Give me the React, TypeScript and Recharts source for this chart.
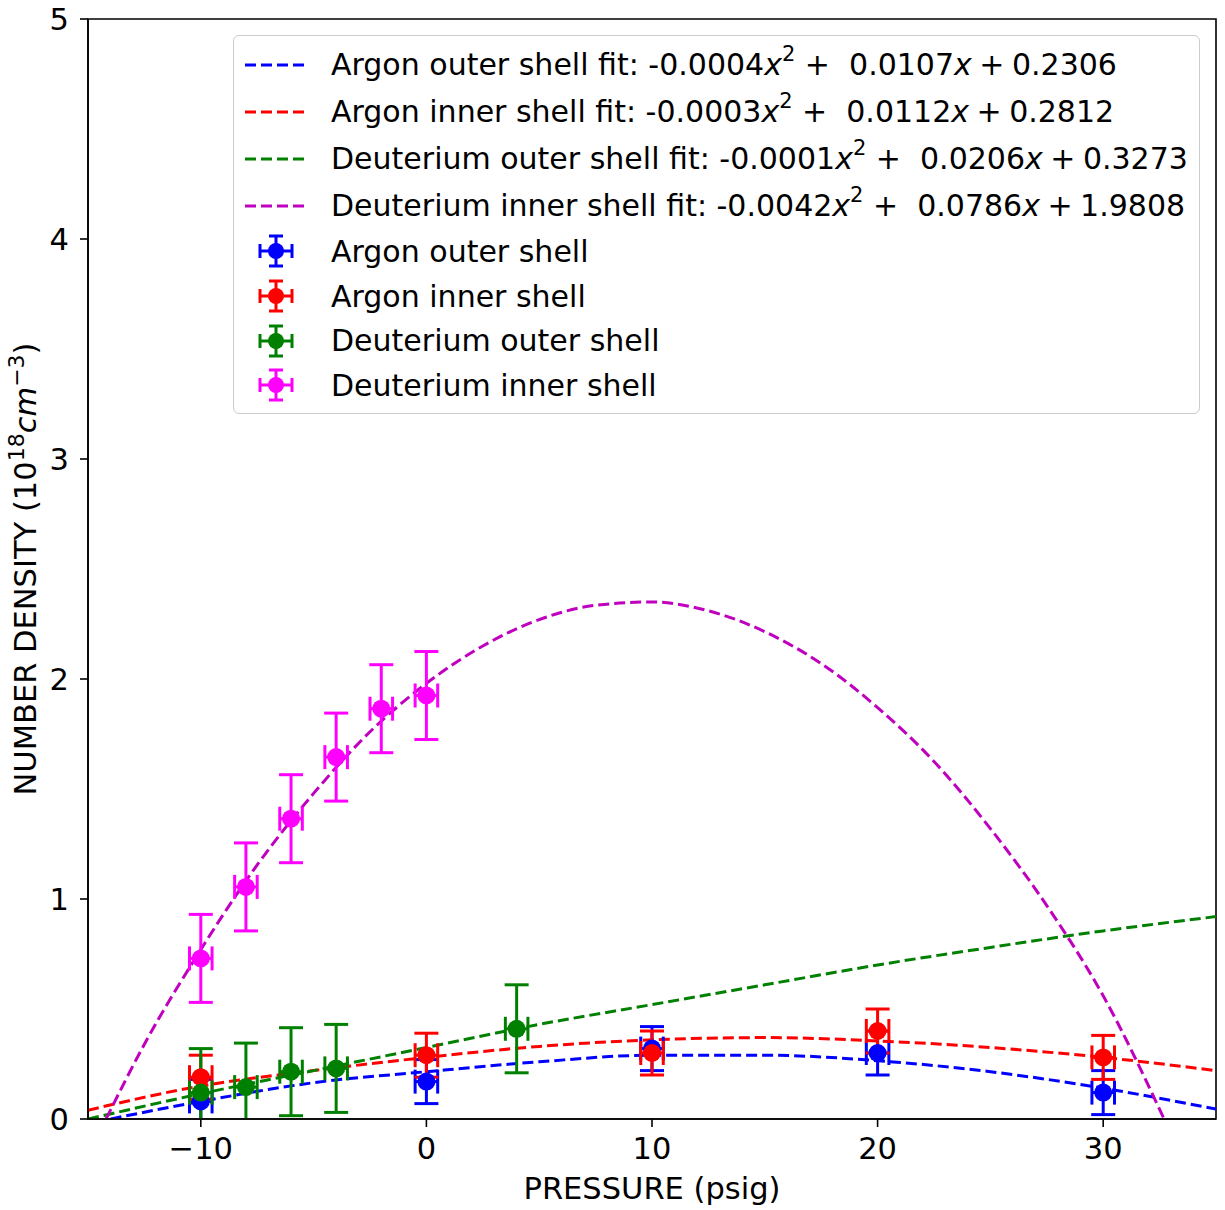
import React from 'react';
import { ComposedChart, Line, Scatter, XAxis, YAxis, ErrorBar, ReferenceArea } from 'recharts';

const FONT = '"DejaVu Sans", "Liberation Sans", sans-serif';
const FS = 30.5;
const LEGEND_FS = 30;

// measured points (pressure in psig, density in 1e18 cm^-3)
const argonOuterX = [-10, 0, 10, 20, 30];
const argonOuterY = [0.08, 0.17, 0.32, 0.3, 0.12];
const argonOuterErr = [0.1, 0.1, 0.1, 0.1, 0.1];

const argonInnerX = [-10, 0, 10, 20, 30];
const argonInnerY = [0.19, 0.29, 0.3, 0.4, 0.28];
const argonInnerErr = [0.1, 0.1, 0.1, 0.1, 0.1];

const deutOuterX = [-10, -8, -6, -4, 4];
const deutOuterY = [0.12, 0.145, 0.215, 0.23, 0.41];
const deutOuterErr = [0.2, 0.2, 0.2, 0.2, 0.2];

const deutInnerX = [-10, -8, -6, -4, -2, 0];
const deutInnerY = [0.73, 1.055, 1.365, 1.645, 1.865, 1.925];
const deutInnerErr = [0.2, 0.2, 0.2, 0.2, 0.2, 0.2];

const pressureErr = 0.5;

// fit curves
const argonOuterFitX = [-14, -10, -5, 0, 5, 10, 15, 20, 25, 30, 35];
const argonOuterFitY = [0.0, 0.08, 0.165, 0.215, 0.26, 0.29, 0.29, 0.265, 0.215, 0.14, 0.045];

const argonInnerFitX = [-15, -10, -5, 0, 5, 10, 15, 20, 25, 30, 35];
const argonInnerFitY = [0.04, 0.15, 0.22, 0.28, 0.33, 0.36, 0.37, 0.355, 0.325, 0.28, 0.22];

const deutOuterFitX = [-15, -10, -5, 0, 5, 10, 15, 20, 25, 30, 35];
const deutOuterFitY = [0.0, 0.115, 0.22, 0.325, 0.43, 0.52, 0.61, 0.7, 0.78, 0.855, 0.92];

const deutInnerFitX = [-14.2, -12.5, -10, -7.5, -5, -2.5, 0, 2.5, 5, 7.5, 10, 12.5, 15, 17.5, 20, 22.5, 25, 27.5, 30, 32.7];
const deutInnerFitY = [0.0, 0.34, 0.77, 1.155, 1.48, 1.76, 1.98, 2.15, 2.27, 2.335, 2.35, 2.31, 2.215, 2.07, 1.87, 1.625, 1.32, 0.97, 0.56, 0.0];

const xTicks = [-10, 0, 10, 20, 30];
const yTicks = [0, 1, 2, 3, 4, 5];

const fitNames = [
  'Argon outer shell fit',
  'Argon inner shell fit',
  'Deuterium outer shell fit',
  'Deuterium inner shell fit',
];
const fitCoefs = [
  ['-0.0004', '0.0107', '0.2306'],
  ['-0.0003', '0.0112', '0.2812'],
  ['-0.0001', '0.0206', '0.3273'],
  ['-0.0042', '0.0786', '1.9808'],
];
const fitColors = ['#0000ff', '#ff0000', '#008000', '#bf00bf'];

const pointNames = ['Argon outer shell', 'Argon inner shell', 'Deuterium outer shell', 'Deuterium inner shell'];
const pointColors = ['#0000ff', '#ff0000', '#008000', '#ff00ff'];

const toPoints = (xs: number[], ys: number[], errs: number[]) =>
  xs.map((x, i) => ({ x, y: ys[i], yerr: errs[i], xerr: pressureErr }));

const toLine = (xs: number[], ys: number[]) => xs.map((x, i) => ({ x, y: ys[i] }));

const scatterSets = [
  toPoints(argonOuterX, argonOuterY, argonOuterErr),
  toPoints(argonInnerX, argonInnerY, argonInnerErr),
  toPoints(deutOuterX, deutOuterY, deutOuterErr),
  toPoints(deutInnerX, deutInnerY, deutInnerErr),
];

const fitSets = [
  toLine(argonOuterFitX, argonOuterFitY),
  toLine(argonInnerFitX, argonInnerFitY),
  toLine(deutOuterFitX, deutOuterFitY),
  toLine(deutInnerFitX, deutInnerFitY),
];

const fmtTick = (v: number) => (v < 0 ? '\u2212' + Math.abs(v) : String(v));

function YTitle({ viewBox }: any) {
  const cx = (viewBox?.x ?? 0) + 35.5;
  const cy = (viewBox?.y ?? 19) + (viewBox?.height ?? 1100) / 2;
  return (
    <text
      transform={`rotate(-90, ${cx}, ${cy})`}
      x={cx}
      y={cy}
      textAnchor="middle"
      fontSize={FS}
      fontFamily={FONT}
      fill="#000"
    >
      NUMBER DENSITY (10
      <tspan dy={-12} fontSize={22}>18</tspan>
      <tspan dy={12} fontStyle="italic">cm</tspan>
      <tspan dy={-12} fontSize={22}>{'\u22123'}</tspan>
      <tspan dy={12}>)</tspan>
    </text>
  );
}

function XTitle({ viewBox }: any) {
  const cx = (viewBox?.x ?? 88) + (viewBox?.width ?? 1128) / 2;
  const y = (viewBox?.y ?? 1119) + 79.5;
  return (
    <text x={cx} y={y} textAnchor="middle" fontSize={FS} fontFamily={FONT} fill="#000">
      PRESSURE (psig)
    </text>
  );
}

const dot = (color: string) => (props: any) =>
  <circle cx={props.cx} cy={props.cy} r={9} fill={color} />;

function Sup({ children }: { children: React.ReactNode }) {
  return <span style={{ fontSize: '0.7em', verticalAlign: '0.65em', lineHeight: 0 }}>{children}</span>;
}

function LegendBox() {
  return (
    <div
      style={{
        position: 'absolute',
        left: 233,
        top: 35,
        width: 965,
        height: 372,
        border: '1.5px solid #cccccc',
        borderRadius: 6,
        background: 'rgba(255,255,255,0.8)',
        fontFamily: FONT,
        fontSize: LEGEND_FS,
        color: '#000',
        paddingTop: 5,
        boxSizing: 'content-box',
      }}
    >
      {fitNames.map((name, i) => (
        <div key={name} style={{ height: 47, display: 'flex', alignItems: 'center', whiteSpace: 'pre' }}>
          <svg width={97} height={20} style={{ flex: 'none' }}>
            <line x1={11} y1={10} x2={70} y2={10} stroke={fitColors[i]} strokeWidth={3} strokeDasharray="11 5" />
          </svg>
          <span>
            {name}: {fitCoefs[i][0]}
            <i>x</i>
            <Sup>2</Sup>
            {' +  ' + fitCoefs[i][1]}
            <i>x</i>
            {'\u2005+\u2005' + fitCoefs[i][2]}
          </span>
        </div>
      ))}
      {pointNames.map((name, i) => (
        <div key={name} style={{ height: 44.7, display: 'flex', alignItems: 'center', whiteSpace: 'pre' }}>
          <svg width={97} height={36} style={{ flex: 'none' }}>
            <g stroke={pointColors[i]} strokeWidth={3}>
              <line x1={42} y1={3} x2={42} y2={33} />
              <line x1={35} y1={3} x2={49} y2={3} />
              <line x1={35} y1={33} x2={49} y2={33} />
              <line x1={26} y1={18} x2={58} y2={18} />
              <line x1={26} y1={11} x2={26} y2={25} />
              <line x1={58} y1={11} x2={58} y2={25} />
            </g>
            <circle cx={42} cy={18} r={8} fill={pointColors[i]} />
          </svg>
          <span>{name}</span>
        </div>
      ))}
    </div>
  );
}

export default function App() {
  const tickStyle = { fontSize: FS, fontFamily: FONT, fill: '#000' };
  const axisLine = { stroke: '#000', strokeWidth: 1.6 };
  return (
    <div style={{ position: 'absolute', left: 0, top: 0, width: 1225, height: 1210, background: '#fff' }}>
      <style>{'g.recharts-errorBar, g.recharts-errorBars { clip-path: url(#plot-clip); }'}</style>
      <svg width={0} height={0} style={{ position: 'absolute' }}>
        <defs>
          <clipPath id="plot-clip" clipPathUnits="userSpaceOnUse">
            <rect x={88} y={19} width={1128} height={1100} />
          </clipPath>
        </defs>
      </svg>
      <ComposedChart width={1225} height={1210} margin={{ top: 19, right: 9, bottom: 0, left: 0 }}>
        <XAxis
          type="number"
          dataKey="x"
          domain={[-15, 35]}
          ticks={xTicks}
          allowDataOverflow
          tickFormatter={fmtTick}
          tick={tickStyle}
          tickSize={8}
          tickMargin={10}
          axisLine={axisLine}
          tickLine={axisLine}
          height={91}
          label={<XTitle />}
        />
        <YAxis
          type="number"
          dataKey="y"
          domain={[0, 5]}
          ticks={yTicks}
          allowDataOverflow
          tick={tickStyle}
          tickSize={8}
          tickMargin={11}
          axisLine={axisLine}
          tickLine={axisLine}
          width={88}
          label={<YTitle />}
        />
        <ReferenceArea x1={-15} x2={35} y1={0} y2={5} fill="none" stroke="#000" strokeWidth={1.6} />
        {fitSets.map((d, i) => (
          <Line
            key={fitNames[i]}
            data={d}
            dataKey="y"
            type="monotone"
            stroke={fitColors[i]}
            strokeWidth={3}
            strokeDasharray="11 5"
            dot={false}
            activeDot={false}
            isAnimationActive={false}
          />
        ))}
        {scatterSets.map((d, i) => (
          <Scatter
            key={pointNames[i]}
            data={d}
            dataKey="y"
            fill={pointColors[i]}
            shape={dot(pointColors[i])}
            isAnimationActive={false}
          >
            <ErrorBar dataKey="yerr" direction="y" width={12} stroke={pointColors[i]} strokeWidth={3} isAnimationActive={false} />
            <ErrorBar dataKey="xerr" direction="x" width={12} stroke={pointColors[i]} strokeWidth={3} isAnimationActive={false} />
          </Scatter>
        ))}
      </ComposedChart>
      <LegendBox />
    </div>
  );
}
